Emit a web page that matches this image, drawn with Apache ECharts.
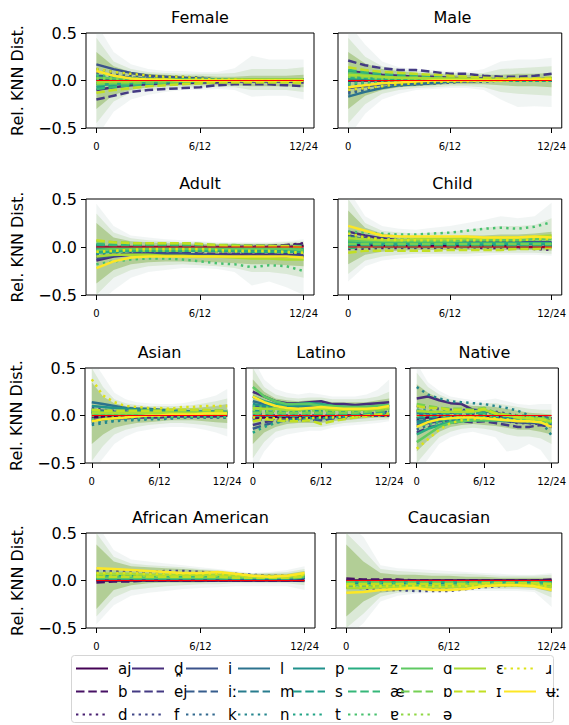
<!DOCTYPE html>
<html><head><meta charset="utf-8">
<script src="https://cdn.jsdelivr.net/npm/echarts@6/dist/echarts.min.js"></script>
<style>html,body{margin:0;padding:0;background:#fff}#chart{width:569px;height:725px}</style>
</head><body><div id="chart"></div>
<script>
// Phoneme labels, in plotting order
const phonemes = ['aj','b','d','d̪','ej','f','i','iː','k','l','m','n','p','s','t','z','æ','ɐ','ɑ','ɒ','ə','ɛ','ɪ','ɹ','ʉː'];
const steps = [0,1,2,3,4,5,6,7,8,9,10,11,12];
const tickValues = [0,6,12];
const tickLabels = ['0','6/12','12/24'];

// Mean relative KNN distance per phoneme (rows follow `phonemes`)
const femaleMeans = [
[.01,.01,0,0,0,0,0,0,0,0,0,0,0],[-.03,-.02,-.02,-.01,-.01,-.01,-.01,0,0,0,0,0,-.01],[.02,.01,.01,0,0,0,0,0,0,0,0,0,0],
[-.1,-.07,-.05,-.04,-.03,-.03,-.02,-.02,-.01,-.01,-.01,-.01,-.02],[-.2,-.16,-.12,-.1,-.09,-.08,-.07,-.05,-.04,-.04,-.04,-.05,-.06],[.08,.07,.05,.04,.04,.03,.02,.01,.01,.01,0,0,0],
[.17,.12,.08,.05,.04,.03,.02,.01,.01,.01,.01,.01,.01],[.05,.04,.03,.02,.02,.02,.01,.01,0,0,0,0,0],[.12,.09,.07,.05,.04,.04,.03,.01,0,0,0,0,0],
[.03,.02,.02,.01,.01,.01,0,0,0,0,0,0,.01],[-.02,-.02,-.01,-.01,-.01,0,0,0,0,0,0,0,0],[.01,.01,.01,.01,0,0,0,0,0,0,0,0,0],
[-.03,-.02,-.02,-.01,-.01,-.01,0,0,0,0,.01,.01,.01],[-.07,-.05,-.04,-.03,-.03,-.02,-.02,-.01,-.01,-.01,-.01,-.01,-.01],[.04,.03,.02,.01,.01,.01,0,0,0,0,0,0,0],
[-.05,-.04,-.03,-.02,-.02,-.01,-.01,0,0,0,0,0,0],[-.09,-.07,-.05,-.04,-.03,-.02,-.02,-.01,-.01,-.01,-.01,-.01,-.01],[.06,.05,.03,.02,.02,.01,.01,.01,0,0,0,0,0],
[.03,.02,.02,.01,.01,.01,.01,.01,.01,.01,.01,.01,.01],[-.04,-.03,-.03,-.02,-.02,-.02,-.01,-.01,-.01,0,0,0,0],[.02,.02,.01,.01,.01,0,0,0,0,0,0,0,0],
[-.02,-.01,-.01,0,0,0,0,0,.01,.01,.01,.01,.01],[-.13,-.1,-.08,-.06,-.05,-.04,-.03,-.02,-.02,-.02,-.02,-.02,-.03],[.12,.09,.07,.05,.04,.04,.02,.01,.01,0,0,0,0],
[.1,.05,.02,.01,.01,0,0,0,0,0,0,0,0]];
const maleMeans = [
[0,0,0,0,0,0,0,0,0,0,0,0,0],[.03,.02,.02,.01,.01,.01,.01,0,0,0,0,0,0],[-.02,-.01,-.01,0,0,0,0,0,0,0,0,0,0],
[.1,.08,.06,.05,.04,.04,.03,.02,.02,.01,.01,.01,.02],[.21,.16,.13,.11,.11,.09,.07,.07,.05,.04,.04,.05,.07],[-.12,-.09,-.07,-.05,-.04,-.03,-.02,-.01,-.01,0,0,0,0],
[-.08,-.06,-.04,-.03,-.02,-.02,-.01,-.01,0,0,0,0,0],[.07,.05,.04,.03,.03,.02,.02,.01,.01,.01,.01,.01,.01],[-.14,-.1,-.07,-.05,-.04,-.03,-.02,-.01,-.01,0,0,0,0],
[-.17,-.12,-.08,-.05,-.04,-.03,-.01,0,0,0,0,0,0],[.04,.03,.02,.02,.01,.01,.01,0,0,0,0,0,0],[-.04,-.03,-.02,-.02,-.01,-.01,0,0,0,0,0,0,0],
[.05,.04,.03,.02,.02,.01,.01,.01,0,0,0,0,.01],[.09,.07,.05,.04,.03,.03,.02,.01,.01,.01,.01,.01,.02],[-.06,-.04,-.03,-.02,-.02,-.01,-.01,0,0,0,0,0,0],
[.02,.02,.01,.01,.01,0,0,0,0,0,0,0,0],[.11,.09,.07,.06,.05,.04,.03,.02,.02,.01,.01,.01,.02],[-.03,-.02,-.01,-.01,0,0,0,0,0,0,0,0,0],
[.08,.06,.04,.03,.02,.02,.01,.01,.01,.01,.01,.01,.01],[.05,.04,.03,.03,.02,.02,.02,.01,.01,.01,.01,.01,.01],[.04,.03,.02,.02,.01,.01,.01,0,0,0,0,0,0],
[.06,.05,.04,.03,.03,.02,.02,.02,.01,.01,.01,.01,.02],[.14,.11,.09,.08,.07,.06,.05,.04,.03,.02,.02,.02,.03],[-.1,-.08,-.06,-.04,-.03,-.02,-.01,-.01,0,0,0,0,0],
[-.07,-.05,-.03,-.02,-.01,0,0,0,0,0,.01,.01,.01]];
const adultMeans = [
[0,0,0,0,0,0,0,0,0,0,0,0,.01],[.02,.01,.01,.01,.01,.01,.01,.01,.01,.01,.01,.02,.03],[-.06,-.04,-.03,-.03,-.02,-.02,-.02,-.01,0,0,.01,.02,.04],
[-.14,-.1,-.08,-.07,-.07,-.07,-.08,-.08,-.08,-.08,-.08,-.08,-.09],[-.1,-.08,-.07,-.06,-.06,-.06,-.07,-.07,-.07,-.07,-.07,-.07,-.08],[-.08,-.06,-.05,-.05,-.05,-.05,-.05,-.05,-.06,-.06,-.06,-.06,-.07],
[-.12,-.09,-.07,-.07,-.07,-.07,-.08,-.09,-.1,-.1,-.1,-.1,-.1],[-.03,-.02,-.02,-.02,-.02,-.02,-.02,-.02,-.02,-.03,-.03,-.03,-.03],[-.05,-.04,-.03,-.03,-.03,-.03,-.03,-.04,-.04,-.04,-.04,-.04,-.05],
[-.02,-.02,-.02,-.02,-.02,-.02,-.02,-.02,-.03,-.03,-.03,-.03,-.03],[-.04,-.03,-.03,-.03,-.03,-.03,-.03,-.03,-.03,-.04,-.04,-.04,-.04],[-.07,-.05,-.04,-.04,-.04,-.04,-.04,-.04,-.05,-.05,-.05,-.05,-.06],
[-.01,-.01,-.01,-.01,-.01,-.01,-.01,-.01,-.01,-.01,-.01,-.01,-.02],[.02,.02,.02,.02,.02,.01,.01,.01,.01,.01,.01,.01,.01],[-.04,-.03,-.03,-.03,-.03,-.03,-.03,-.03,-.03,-.03,-.03,-.03,-.04],
[-.06,-.05,-.04,-.04,-.04,-.04,-.04,-.04,-.04,-.05,-.05,-.05,-.05],[.03,.02,.02,.02,.02,.02,.01,.01,.01,0,0,0,0],[-.18,-.15,-.13,-.12,-.12,-.13,-.15,-.17,-.18,-.21,-.19,-.2,-.25],
[-.03,-.02,-.02,-.02,-.02,-.02,-.02,-.02,-.02,-.02,-.02,-.02,-.03],[.06,.05,.04,.04,.04,.04,.03,.02,.02,.01,.01,0,0],[-.05,-.04,-.04,-.04,-.04,-.04,-.04,-.05,-.05,-.05,-.05,-.06,-.06],
[-.1,-.08,-.08,-.08,-.09,-.09,-.1,-.1,-.11,-.12,-.12,-.13,-.13],[.07,.05,.04,.04,.04,.04,.03,.02,.01,.01,.01,.01,0],[-.05,-.04,-.03,-.02,-.02,-.02,-.02,-.03,-.04,-.04,-.04,-.05,-.06],
[-.22,-.15,-.11,-.1,-.1,-.1,-.1,-.1,-.1,-.1,-.1,-.1,-.11]];
const childMeans = [
[.02,.02,.01,.01,.01,.01,.01,.01,.01,.01,0,0,0],[.05,.04,.03,.03,.03,.02,.02,.02,.02,.02,.02,.02,.02],[-.02,-.02,-.01,-.01,-.01,-.01,-.01,0,-.01,-.01,-.01,-.02,-.03],
[.16,.12,.09,.07,.06,.06,.06,.06,.05,.05,.04,.04,.03],[.12,.09,.07,.06,.05,.05,.05,.05,.04,.04,.03,.03,.02],[.1,.08,.07,.06,.06,.06,.06,.06,.05,.05,.05,.05,.04],
[.08,.07,.06,.05,.05,.05,.05,.05,.05,.05,.05,.05,.05],[.06,.05,.04,.04,.04,.04,.04,.04,.04,.04,.04,.04,.04],[.12,.1,.09,.08,.08,.08,.08,.07,.07,.07,.07,.07,.07],
[.11,.08,.06,.05,.05,.05,.05,.04,.04,.04,.04,.04,.04],[.04,.03,.03,.03,.03,.03,.03,.03,.02,.02,.02,.02,.02],[.03,.03,.02,.02,.02,.02,.02,.02,.02,.02,.02,.02,.02],
[.06,.05,.04,.04,.04,.04,.03,.03,.03,.03,.03,.03,.03],[.02,.02,.02,.02,.02,.02,.02,.02,.02,.02,.02,.02,.02],[.01,.01,.01,.01,.01,.01,.01,.01,.01,.01,.01,.01,.01],
[.05,.04,.04,.04,.04,.04,.04,.04,.04,.04,.04,.04,.04],[-.01,0,0,0,0,0,0,0,0,0,0,0,0],[.16,.15,.14,.13,.13,.14,.15,.17,.19,.2,.19,.21,.26],
[.07,.06,.06,.06,.06,.06,.06,.07,.07,.07,.07,.08,.08],[.03,.03,.03,.03,.03,.03,.03,.03,.03,.03,.03,.03,.03],[.1,.09,.08,.08,.08,.08,.08,.08,.08,.08,.08,.09,.09],
[.09,.08,.07,.07,.08,.08,.08,.09,.09,.1,.1,.11,.12],[-.06,-.04,-.04,-.04,-.04,-.04,-.03,-.03,-.03,-.03,-.02,-.02,-.01],[.14,.1,.08,.07,.07,.07,.07,.07,.07,.07,.07,.08,.08],
[.22,.17,.12,.11,.11,.11,.11,.11,.1,.1,.1,.11,.1]];
const asianMeans = [
[-.02,-.01,-.01,-.01,0,0,0,0,0,0,0,0,0],[.03,.03,.02,.02,.02,.02,.02,.02,.02,.02,.02,.02,.02],[-.03,-.03,-.02,-.02,-.02,-.01,-.01,-.01,-.01,-.01,-.01,-.01,0],
[-.05,-.04,-.03,-.03,-.02,-.02,-.02,-.01,-.01,-.01,-.01,-.01,0],[.04,.03,.03,.02,.02,.02,.02,.02,.02,.02,.02,.02,.02],[.08,.06,.05,.04,.04,.03,.03,.03,.03,.03,.03,.03,.03],
[.06,.05,.04,.04,.04,.03,.03,.03,.03,.03,.03,.03,.03],[.02,.02,.02,.02,.02,.02,.02,.02,.02,.02,.02,.02,.02],[-.08,-.06,-.05,-.04,-.04,-.03,-.03,-.03,-.02,-.02,-.02,-.02,-.02],
[.14,.12,.1,.08,.07,.07,.06,.05,.05,.04,.04,.04,.03],[.05,.04,.04,.04,.04,.04,.04,.04,.04,.04,.04,.04,.04],[-.1,-.08,-.06,-.05,-.05,-.04,-.04,-.03,-.02,-.02,-.02,-.02,-.02],
[.1,.09,.08,.07,.06,.06,.05,.05,.04,.04,.04,.04,.04],[.02,.02,.02,.02,.02,.02,.02,.02,.02,.02,.02,.02,.02],[-.06,-.05,-.04,-.03,-.03,-.03,-.02,-.02,-.02,-.01,-.01,-.01,-.01],
[.04,.04,.03,.03,.03,.03,.03,.03,.03,.03,.03,.03,.03],[.06,.05,.05,.05,.05,.05,.05,.05,.05,.05,.05,.05,.05],[-.04,-.03,-.03,-.02,-.02,-.02,-.02,-.01,-.01,-.01,-.01,-.01,-.01],
[.01,.01,.01,.01,.01,.01,.01,.01,.01,.01,.01,.01,.01],[.05,.04,.04,.04,.04,.04,.04,.04,.04,.05,.05,.05,.05],[0,0,0,0,0,0,0,0,0,0,.01,.01,.01],
[.03,.03,.03,.03,.03,.03,.03,.03,.03,.03,.03,.03,.03],[.06,.05,.05,.05,.05,.05,.05,.06,.06,.06,.06,.05,.05],[.38,.21,.14,.1,.09,.08,.08,.07,.09,.09,.1,.1,.1],
[-.06,-.04,-.03,-.02,-.01,0,0,.01,.01,.01,.02,.02,.02]];
const latinoMeans = [
[-.02,-.02,-.01,-.02,-.02,-.01,-.01,-.01,0,0,0,0,0],[-.03,-.03,-.04,-.05,-.04,-.03,-.03,-.02,-.01,0,0,0,0],[-.02,-.03,-.03,-.03,-.03,-.02,-.02,-.02,-.01,-.01,0,0,0],
[.25,.2,.15,.13,.13,.14,.15,.12,.12,.11,.12,.13,.14],[-.1,-.07,-.05,-.04,-.03,-.04,-.05,-.03,-.02,-.01,0,0,0],[.02,.01,0,0,0,0,0,0,0,.01,.02,.03,.04],
[.1,.09,.08,.07,.07,.08,.08,.07,.07,.06,.06,.07,.08],[-.14,-.1,-.07,-.05,-.05,-.05,-.04,-.03,-.02,-.01,0,0,.01],[-.05,-.04,-.03,-.03,-.03,-.03,-.03,-.02,-.01,0,.01,.02,.03],
[.15,.12,.1,.09,.09,.1,.1,.09,.08,.08,.08,.09,.1],[.04,.04,.03,.03,.03,.03,.03,.03,.03,.03,.03,.04,.05],[.08,.07,.06,.06,.06,.06,.06,.06,.06,.06,.06,.07,.09],
[.12,.1,.09,.09,.1,.11,.11,.1,.09,.09,.09,.1,.11],[.05,.04,.04,.04,.04,.05,.05,.05,.05,.05,.05,.06,.07],[-.18,-.12,-.08,-.05,-.04,-.03,-.03,-.02,-.01,0,0,.01,.02],
[.2,.15,.12,.11,.12,.13,.12,.1,.09,.08,.08,.09,.1],[0,0,0,0,0,0,.01,.01,.01,.01,.02,.02,.03],[.1,.09,.08,.07,.07,.07,.06,.06,.06,.06,.06,.07,.08],
[.3,.2,.15,.12,.12,.12,.1,.1,.09,.09,.09,.1,.11],[.03,.03,.03,.03,.03,.03,.03,.03,.03,.03,.04,.05,.06],[.06,.05,.05,.05,.05,.05,.05,.05,.05,.05,.05,.06,.07],
[.08,.07,.07,.06,.06,.07,.07,.06,.06,.06,.06,.07,.08],[-.06,-.04,-.05,-.06,-.06,-.05,-.09,-.06,-.04,-.02,0,.01,.02],[-.02,-.03,-.03,-.04,-.03,-.03,-.02,-.02,-.01,-.01,-.01,0,0],
[.2,.14,.1,.08,.07,.08,.09,.08,.07,.07,.07,.08,.1]];
const nativeMeans = [
[-.03,-.02,-.02,-.02,-.01,-.01,-.01,-.01,-.01,-.01,-.02,-.02,-.03],[.05,.04,.03,.03,.03,.02,.02,.01,0,-.01,-.02,-.02,-.03],[-.05,-.04,-.03,-.03,-.03,-.03,-.04,-.05,-.06,-.08,-.08,-.09,-.1],
[.18,.2,.16,.13,.12,.06,.05,.03,0,-.02,-.03,-.04,-.06],[-.18,-.13,-.1,-.08,-.06,-.07,-.06,-.08,-.1,-.12,-.12,-.1,-.12],[.1,.08,.07,.06,.06,.05,.05,.04,.02,0,-.02,-.03,-.05],
[-.1,-.08,-.06,-.05,-.04,-.04,-.04,-.05,-.06,-.07,-.08,-.08,-.1],[.02,.02,.02,.02,.02,.02,.02,.01,0,-.01,-.02,-.03,-.04],[-.15,-.1,-.07,-.05,-.04,-.04,-.04,-.05,-.06,-.07,-.07,-.08,-.1],
[.02,.02,.02,.03,.04,.05,.05,.02,-.02,-.04,-.04,-.04,-.05],[-.06,-.05,-.04,-.04,-.04,-.04,-.03,-.03,-.03,-.04,-.04,-.05,-.06],[.3,.22,.18,.15,.14,.13,.12,.1,.08,.05,0,-.05,-.21],
[-.08,-.06,-.05,-.04,-.04,-.04,-.04,-.04,-.05,-.05,-.06,-.07,-.08],[-.02,-.02,-.01,-.01,-.01,-.01,-.01,-.01,-.01,-.02,-.02,-.03,-.04],[.06,.05,.04,.04,.04,.03,.03,.02,.01,0,-.01,-.02,-.03],
[-.2,-.14,-.1,-.07,-.06,-.05,-.05,-.05,-.05,-.05,-.06,-.07,-.08],[.04,.03,.03,.03,.03,.03,.02,.01,0,-.01,-.02,-.03,-.04],[-.12,-.09,-.07,-.05,-.04,-.04,-.04,-.04,-.04,-.05,-.05,-.06,-.07],
[-.28,-.2,-.12,-.08,-.06,-.05,-.05,-.05,-.05,-.05,-.05,-.06,-.07],[.12,.1,.08,.07,.07,.06,.08,.03,.01,-.01,-.02,-.03,-.05],[0,0,0,0,0,0,0,0,0,0,-.01,-.02,-.03],
[.05,.04,.04,.04,.04,.04,.06,.02,0,-.02,-.03,-.04,-.06],[.1,.08,.08,.06,.06,.05,.07,.02,0,-.02,-.03,-.04,-.06],[-.35,-.25,-.15,-.08,-.05,-.04,-.03,-.03,-.04,-.05,-.06,-.07,-.1],
[-.12,-.07,-.04,-.03,-.02,-.02,-.03,-.04,-.05,-.06,-.06,-.07,-.12]];
const africanAmericanMeans = [
[0,0,0,0,0,0,0,0,0,0,0,0,0],[-.02,-.01,-.01,0,0,0,0,0,0,0,0,0,0],[.01,.01,.01,.01,.01,.01,0,0,0,0,0,0,0],
[.04,.04,.04,.04,.04,.04,.03,.03,.02,.02,.02,.02,.03],[.06,.05,.05,.04,.05,.05,.05,.05,.04,.03,.03,.03,.04],[.1,.1,.1,.09,.1,.1,.09,.08,.07,.06,.05,.05,.06],
[.03,.03,.03,.03,.03,.03,.03,.03,.03,.02,.02,.02,.03],[.05,.05,.05,.05,.05,.05,.04,.04,.04,.03,.03,.03,.04],[.08,.08,.07,.07,.07,.07,.07,.06,.05,.05,.04,.04,.05],
[.02,.02,.02,.02,.02,.02,.02,.02,.02,.02,.02,.02,.03],[.04,.04,.04,.04,.04,.04,.04,.03,.03,.03,.03,.03,.04],[.03,.03,.03,.03,.03,.03,.03,.03,.03,.03,.03,.03,.03],
[.05,.05,.05,.04,.04,.04,.04,.04,.04,.04,.04,.04,.05],[.03,.03,.03,.03,.03,.03,.03,.03,.03,.03,.03,.03,.04],[.06,.06,.06,.05,.05,.05,.05,.05,.04,.04,.04,.04,.05],
[.04,.04,.04,.04,.04,.04,.04,.04,.04,.04,.04,.04,.04],[.02,.02,.02,.02,.02,.02,.02,.02,.02,.02,.02,.02,.03],[.05,.05,.05,.05,.05,.05,.05,.05,.04,.04,.04,.04,.05],
[.03,.03,.03,.03,.03,.03,.03,.03,.03,.03,.03,.03,.04],[.04,.04,.04,.04,.04,.04,.04,.04,.03,.03,.03,.03,.04],[.06,.06,.05,.05,.05,.05,.05,.05,.04,.04,.04,.04,.05],
[.07,.07,.07,.06,.06,.06,.06,.06,.05,.04,.04,.04,.06],[.04,.04,.04,.04,.04,.04,.04,.04,.03,.03,.03,.03,.04],[.08,.08,.08,.07,.07,.07,.07,.07,.06,.05,.05,.05,.06],
[.13,.12,.11,.1,.09,.08,.08,.09,.07,.05,.04,.05,.08]];
const caucasianMeans = [
[0,0,0,0,0,0,0,0,0,0,0,0,0],[.02,.01,.01,.01,0,0,0,0,0,0,0,0,.01],[-.01,-.01,-.02,-.05,-.03,-.02,-.02,-.02,-.02,-.02,-.02,-.02,-.02],
[-.03,-.03,-.03,-.04,-.03,-.03,-.03,-.03,-.02,-.02,-.02,-.02,-.03],[-.05,-.05,-.05,-.05,-.05,-.05,-.05,-.04,-.04,-.04,-.04,-.04,-.05],[-.07,-.08,-.1,-.1,-.11,-.11,-.11,-.09,-.07,-.06,-.05,-.05,-.06],
[-.04,-.04,-.04,-.04,-.04,-.04,-.04,-.04,-.03,-.03,-.03,-.03,-.04],[-.02,-.02,-.02,-.02,-.02,-.02,-.02,-.02,-.02,-.02,-.02,-.02,-.03],[-.06,-.06,-.07,-.07,-.07,-.07,-.07,-.06,-.05,-.05,-.04,-.04,-.05],
[-.03,-.03,-.03,-.03,-.03,-.03,-.03,-.03,-.03,-.03,-.03,-.03,-.04],[-.04,-.04,-.04,-.04,-.04,-.04,-.04,-.04,-.04,-.04,-.04,-.04,-.05],[-.05,-.05,-.05,-.05,-.05,-.05,-.05,-.05,-.04,-.04,-.04,-.04,-.05],
[-.02,-.02,-.02,-.02,-.02,-.02,-.02,-.02,-.02,-.02,-.02,-.02,-.03],[-.03,-.03,-.03,-.03,-.03,-.03,-.03,-.03,-.03,-.03,-.03,-.03,-.04],[-.06,-.06,-.06,-.06,-.06,-.06,-.06,-.05,-.05,-.04,-.04,-.04,-.05],
[-.01,-.01,-.01,-.01,-.01,-.01,-.01,-.01,-.01,-.01,-.01,-.01,-.02],[-.04,-.04,-.04,-.04,-.04,-.04,-.04,-.04,-.03,-.03,-.03,-.03,-.04],[-.03,-.03,-.03,-.03,-.03,-.03,-.03,-.03,-.03,-.03,-.03,-.03,-.04],
[-.05,-.05,-.05,-.05,-.05,-.05,-.05,-.04,-.04,-.04,-.04,-.04,-.05],[-.02,-.02,-.02,-.02,-.02,-.02,-.02,-.02,-.02,-.02,-.02,-.02,-.03],[-.05,-.05,-.05,-.05,-.05,-.05,-.05,-.05,-.04,-.04,-.04,-.04,-.05],
[-.08,-.08,-.07,-.07,-.07,-.07,-.07,-.06,-.05,-.05,-.05,-.05,-.07],[-.04,-.04,-.04,-.04,-.04,-.04,-.04,-.04,-.03,-.03,-.03,-.03,-.04],[-.06,-.06,-.06,-.06,-.06,-.06,-.06,-.06,-.05,-.05,-.05,-.05,-.06],
[-.13,-.12,-.1,-.09,-.08,-.1,-.1,-.09,-.06,-.05,-.05,-.06,-.1]];

// Spread envelopes, [lower, upper] from widest to narrowest
const femaleBands = [
[[-.6,-.33,-.2,-.15,-.12,-.1,-.1,-.09,-.1,-.17,-.16,-.16,-.2],[.6,.3,.17,.12,.1,.1,.09,.09,.13,.26,.22,.22,.22]],
[[-.45,-.22,-.13,-.1,-.09,-.08,-.07,-.07,-.07,-.1,-.1,-.1,-.12],[.45,.2,.12,.09,.08,.07,.07,.07,.08,.12,.12,.12,.14]],
[[-.3,-.15,-.1,-.07,-.06,-.05,-.05,-.05,-.05,-.06,-.06,-.06,-.07],[.3,.15,.09,.07,.06,.05,.05,.04,.04,.05,.05,.05,.06]]];
const maleBands = [
[[-.6,-.35,-.2,-.14,-.1,-.09,-.08,-.08,-.1,-.2,-.28,-.27,-.28],[.6,.38,.2,.14,.12,.11,.1,.09,.12,.2,.22,.22,.24]],
[[-.45,-.25,-.14,-.1,-.08,-.07,-.06,-.06,-.07,-.12,-.14,-.15,-.16],[.45,.25,.15,.12,.1,.09,.08,.08,.08,.12,.13,.14,.15]],
[[-.3,-.16,-.1,-.07,-.06,-.05,-.04,-.04,-.04,-.05,-.06,-.06,-.07],[.3,.18,.12,.1,.08,.07,.06,.06,.06,.06,.07,.07,.08]]];
const adultBands = [
[[-.6,-.45,-.32,-.26,-.24,-.22,-.22,-.23,-.26,-.4,-.36,-.42,-.5],[.45,.22,.12,.1,.08,.07,.06,.05,.05,.05,.05,.06,.08]],
[[-.5,-.32,-.24,-.2,-.19,-.18,-.19,-.2,-.22,-.26,-.26,-.28,-.32],[.35,.15,.09,.07,.06,.05,.05,.04,.04,.04,.04,.05,.06]],
[[-.38,-.24,-.18,-.16,-.15,-.15,-.16,-.16,-.17,-.18,-.18,-.19,-.2],[.25,.1,.06,.05,.04,.04,.03,.03,.03,.03,.03,.03,.04]]];
const childBands = [
[[-.36,-.2,-.14,-.12,-.11,-.1,-.1,-.1,-.09,-.08,-.08,-.08,-.09],[.6,.32,.22,.19,.18,.2,.22,.25,.28,.32,.3,.32,.46]],
[[-.28,-.14,-.1,-.08,-.07,-.07,-.07,-.07,-.06,-.06,-.06,-.06,-.07],[.5,.25,.17,.15,.14,.15,.16,.18,.2,.22,.22,.23,.3]],
[[-.18,-.08,-.05,-.04,-.03,-.03,-.03,-.03,-.03,-.03,-.03,-.03,-.04],[.38,.2,.14,.12,.11,.11,.11,.12,.12,.13,.13,.14,.16]]];
const asianBands = [
[[-.6,-.45,-.3,-.22,-.17,-.15,-.13,-.12,-.12,-.13,-.15,-.18,-.22],[.6,.42,.24,.17,.14,.13,.12,.12,.13,.15,.18,.21,.28]],
[[-.48,-.32,-.2,-.15,-.12,-.1,-.09,-.08,-.08,-.09,-.1,-.12,-.14],[.5,.3,.17,.13,.11,.1,.1,.1,.1,.11,.13,.15,.18]],
[[-.3,-.2,-.13,-.1,-.08,-.07,-.06,-.05,-.05,-.05,-.06,-.07,-.08],[.35,.2,.13,.1,.09,.08,.08,.08,.08,.08,.09,.1,.12]]];
const latinoBands = [
[[-.6,-.38,-.24,-.2,-.18,-.16,-.16,-.13,-.11,-.1,-.09,-.08,-.06],[.6,.38,.28,.24,.22,.24,.22,.2,.2,.2,.22,.27,.38]],
[[-.45,-.28,-.17,-.14,-.13,-.12,-.12,-.1,-.08,-.07,-.06,-.05,-.04],[.5,.3,.22,.19,.18,.19,.19,.17,.17,.17,.18,.2,.25]],
[[-.3,-.18,-.12,-.09,-.08,-.08,-.08,-.06,-.05,-.04,-.03,-.02,-.02],[.38,.25,.18,.16,.15,.16,.16,.14,.14,.14,.14,.16,.18]]];
const nativeBands = [
[[-.6,-.46,-.3,-.23,-.19,-.17,-.2,-.23,-.38,-.36,-.3,-.36,-.52],[.55,.35,.26,.2,.18,.16,.16,.18,.15,.12,.11,.12,.12]],
[[-.5,-.36,-.23,-.17,-.14,-.13,-.14,-.16,-.2,-.22,-.22,-.24,-.3],[.45,.3,.22,.17,.15,.13,.13,.13,.11,.09,.07,.06,.06]],
[[-.38,-.26,-.17,-.12,-.1,-.09,-.1,-.11,-.13,-.15,-.15,-.17,-.2],[.33,.24,.18,.14,.12,.1,.1,.09,.07,.05,.03,.02,.01]]];
const africanAmericanBands = [
[[-.46,-.26,-.16,-.13,-.11,-.09,-.08,-.07,-.06,-.06,-.06,-.06,-.1],[.6,.32,.22,.2,.18,.16,.14,.12,.1,.08,.09,.11,.15]],
[[-.38,-.18,-.1,-.08,-.06,-.05,-.04,-.04,-.03,-.03,-.03,-.03,-.05],[.5,.25,.18,.16,.15,.14,.12,.11,.09,.07,.08,.09,.12]],
[[-.3,-.1,-.05,-.03,-.02,-.02,-.02,-.01,-.01,-.01,-.01,-.01,-.02],[.38,.2,.15,.14,.13,.12,.11,.1,.08,.07,.07,.07,.1]]];
const caucasianBands = [
[[-.6,-.45,-.22,-.16,-.14,-.13,-.12,-.11,-.11,-.11,-.11,-.12,-.28],[.6,.46,.16,.13,.12,.11,.1,.09,.08,.07,.06,.06,.08]],
[[-.5,-.35,-.17,-.13,-.12,-.11,-.1,-.09,-.09,-.09,-.09,-.1,-.18],[.5,.32,.12,.1,.09,.08,.07,.07,.06,.05,.05,.05,.06]],
[[-.38,-.22,-.13,-.11,-.1,-.09,-.09,-.08,-.07,-.07,-.07,-.08,-.12],[.38,.2,.08,.06,.06,.05,.05,.04,.04,.03,.03,.03,.03]]];

// Panel layout (pixels)
const panels = [
  {title:'Female', means:femaleMeans, bands:femaleBands, left:86, top:33, width:228, height:95, yLabels:true},
  {title:'Male', means:maleMeans, bands:maleBands, left:338, top:33, width:229, height:95, yLabels:false},
  {title:'Adult', means:adultMeans, bands:adultBands, left:86, top:199, width:228, height:96, yLabels:true},
  {title:'Child', means:childMeans, bands:childBands, left:338, top:199, width:229, height:96, yLabels:false},
  {title:'Asian', means:asianMeans, bands:asianBands, left:85, top:368, width:149, height:95, yLabels:true},
  {title:'Latino', means:latinoMeans, bands:latinoBands, left:246, top:368, width:150, height:95, yLabels:false},
  {title:'Native', means:nativeMeans, bands:nativeBands, left:410, top:368, width:149, height:95, yLabels:false},
  {title:'African American', means:africanAmericanMeans, bands:africanAmericanBands, left:86, top:533, width:229, height:95, yLabels:true},
  {title:'Caucasian', means:caucasianMeans, bands:caucasianBands, left:336, top:533, width:226, height:95, yLabels:false}
];

const viridis = ['#440154','#471164','#481f70','#472d7b','#443a83','#404688','#3b528b','#365d8d','#31688e','#2c728e','#287c8e','#24868e','#21918c','#1f9a8a','#20a486','#27ad81','#35b779','#47c16e','#5ec962','#75d054','#8fd744','#a8db34','#c2df23','#dde318','#fde725'];
const dashTypes = ['solid', [8.5, 3.8], [2.4, 4.2]];
const bandFills = ['rgba(140,170,165,0.12)', 'rgba(135,185,100,0.20)', 'rgba(118,165,52,0.40)'];
const FONT = 'DejaVu Sans';

const grid = [], xAxis = [], yAxis = [], series = [], graphic = [];
panels.forEach((p, k) => {
  grid.push({left:p.left, top:p.top, width:p.width, height:p.height, show:true, borderColor:'#000', borderWidth:1, backgroundColor:'#fff', containLabel:false});
  xAxis.push({type:'value', gridIndex:k, min:-0.6, max:12.6,
    axisLine:{show:false, onZero:false}, splitLine:{show:false},
    axisTick:{show:true, customValues:tickValues, length:5, lineStyle:{color:'#000', width:1}},
    axisLabel:{show:true, customValues:tickValues, margin:13, fontSize:10, color:'#000', fontFamily:FONT,
      formatter:v => tickLabels[tickValues.indexOf(v)]}});
  yAxis.push({type:'value', gridIndex:k, min:-0.5, max:0.5, interval:0.5,
    axisLine:{show:false, onZero:false}, splitLine:{show:false},
    axisTick:{show:true, length:5, lineStyle:{color:'#000', width:1}},
    axisLabel:{show:p.yLabels, margin:9, fontSize:16, color:'#000', fontFamily:FONT,
      formatter:v => (v < 0 ? '\u2212' : '') + Math.abs(v).toFixed(1)},
    name: p.yLabels ? 'Rel. KNN Dist.' : '', nameLocation:'middle', nameGap:61, nameRotate:90,
    nameTextStyle:{fontSize:16, color:'#000', fontFamily:FONT}});
  // shaded spread envelopes
  series.push({type:'custom', xAxisIndex:k, yAxisIndex:k, silent:true, clip:true, z:1,
    animation:false, data:[[0,0]], encode:{x:0, y:1},
    renderItem:(params, api) => ({type:'group', children: p.bands.map((b, li) => {
      const pts = steps.map((x, j) => api.coord([x, b[1][j]]));
      for (let j = steps.length - 1; j >= 0; j--) pts.push(api.coord([steps[j], b[0][j]]));
      return {type:'polygon', shape:{points:pts}, style:{fill:bandFills[li]}};
    })})});
  // phoneme mean curves
  p.means.forEach((vals, i) => {
    series.push({type:'line', name:phonemes[i], xAxisIndex:k, yAxisIndex:k, z:2,
      data: steps.map((x, j) => [x, vals[j]]), symbol:'none', smooth:false,
      silent:true, animation:false,
      itemStyle:{color:viridis[i]},
      lineStyle:{color:viridis[i], width:2.5, type:dashTypes[i % 3]}});
  });
  // zero reference
  series.push({type:'line', name:'zero', xAxisIndex:k, yAxisIndex:k, z:3,
    data:[[0,0],[12,0]], symbol:'none', silent:true, animation:false,
    lineStyle:{color:'#ff0000', width:1.2}, itemStyle:{color:'#ff0000'}});
  graphic.push({type:'text', x:p.left + p.width / 2, y:p.top - 16, silent:true,
    style:{text:p.title, font:'16px ' + FONT, fill:'#000', align:'center', verticalAlign:'middle'}});
});

// Legend: column-major, three rows
const legendColumns = [[0,1,2],[3,4,5],[6,7,8],[9,10,11],[12,13,14],[15,16,17],[18,19,20],[21,22],[23,24]];
const legendLeft = [75,131,185,237,292,347,400,453,503];
const legend = legendColumns.map((col, c) => ({
  orient:'vertical', left:legendLeft[c], top:661, padding:0, itemWidth:32, itemHeight:14, itemGap:8,
  selectedMode:false, data: col.map(i => phonemes[i]),
  itemStyle:{opacity:0},
  textStyle:{fontSize:15, color:'#000', fontFamily:FONT, padding:[0,0,0,5]}
}));
graphic.push({type:'rect', z:-1, shape:{x:71.5, y:655.5, width:482, height:67, r:3},
  style:{fill:'#fff', stroke:'#d5d5d5', lineWidth:1}, silent:true});

const chart = echarts.init(document.getElementById('chart'), null, {renderer:'svg'});
chart.setOption({animation:false, backgroundColor:'#fff', grid, xAxis, yAxis, series, legend, graphic});
</script></body></html>
